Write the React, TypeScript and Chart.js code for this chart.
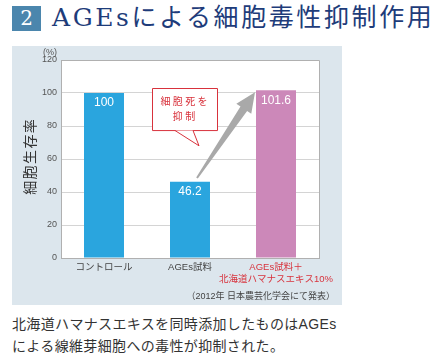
import React, { useEffect, useRef } from "react";
import { Chart, registerables } from "chart.js";

Chart.register(...registerables);

const categories: string[][] = [["コントロール"], ["AGEs試料"], ["AGEs試料＋", "北海道ハマナスエキス10%"]];
const values: number[] = [100, 46.2, 101.6];
const barColors: string[] = ["#2aa5de", "#2aa5de", "#cc88b9"];
const labelColors: string[] = ["#444444", "#444444", "#d8323c"];
const valueLabels: string[] = ["100", "46.2", "101.6"];
const yMin = 0;
const yMax = 120;
const yStep = 20;
const yTitle = "細胞生存率";
const yUnit = "(%)";
const calloutLines: string[] = ["細胞死を", "抑制"];
const footnote = "（2012年 日本農芸化学会にて発表）";
const titleNum = "2";
const titleText = "AGEsによる細胞毒性抑制作用";
const captionLines: string[] = ["北海道ハマナスエキスを同時添加したものはAGEs", "による線維芽細胞への毒性が抑制された。"];

const SANS = '"Liberation Sans", "Noto Sans CJK JP", sans-serif';

const decorPlugin = {
  id: "decor",
  beforeDraw(chart: any) {
    const { ctx, chartArea: a } = chart;
    ctx.save();
    ctx.fillStyle = "#ffffff";
    ctx.fillRect(a.left, a.top, a.right - a.left, a.bottom - a.top);
    ctx.restore();
  },
  afterDraw(chart: any) {
    const { ctx, chartArea: a, scales } = chart;
    const y = scales.y;
    const meta = chart.getDatasetMeta(0);
    ctx.save();
    // top & right border
    ctx.strokeStyle = "#b0b0b0";
    ctx.lineWidth = 1;
    ctx.beginPath();
    ctx.moveTo(Math.round(a.left) + 0.5, Math.round(a.top) + 0.5);
    ctx.lineTo(Math.round(a.right) + 0.5, Math.round(a.top) + 0.5);
    ctx.lineTo(Math.round(a.right) + 0.5, Math.round(a.bottom) + 0.5);
    ctx.stroke();

    // value labels
    ctx.fillStyle = "#ffffff";
    ctx.font = `12px ${SANS}`;
    ctx.textAlign = "center";
    ctx.textBaseline = "middle";
    meta.data.forEach((el: any, i: number) => {
      ctx.fillText(valueLabels[i], el.x, el.y + 10);
    });

    // (%) unit
    ctx.fillStyle = "#555555";
    ctx.font = `9px ${SANS}`;
    ctx.fillText(yUnit, 38, 7);

    // rotated y title (reads bottom to top)
    ctx.save();
    ctx.translate(19, 111);
    ctx.rotate(-Math.PI / 2);
    ctx.fillStyle = "#333333";
    ctx.font = `14px ${SANS}`;
    const chars = Array.from(yTitle);
    const step = 15.4;
    chars.forEach((c, i) => {
      ctx.fillText(c, (i - (chars.length - 1) / 2) * step, 0);
    });
    ctx.restore();

    // callout
    const b1 = meta.data[1];
    const cx = b1.x - 6;
    const bl = cx - 32.5, br = cx + 32.5;
    const bt = y.getPixelForValue(103), bb = y.getPixelForValue(77.5);
    const tipX = b1.x + 9, tipY = y.getPixelForValue(68);
    ctx.fillStyle = "#ffffff";
    ctx.strokeStyle = "#d8323c";
    ctx.lineWidth = 1;
    ctx.beginPath();
    ctx.rect(Math.round(bl) + 0.5, Math.round(bt) + 0.5, br - bl, bb - bt);
    ctx.fill();
    ctx.stroke();
    const t1 = b1.x - 15, t2 = b1.x + 3;
    ctx.beginPath();
    ctx.moveTo(t1, Math.round(bb) + 0.5);
    ctx.lineTo(tipX, tipY);
    ctx.lineTo(t2, Math.round(bb) + 0.5);
    ctx.closePath();
    ctx.fill();
    ctx.beginPath();
    ctx.moveTo(t1, Math.round(bb) + 0.5);
    ctx.lineTo(tipX, tipY);
    ctx.lineTo(t2, Math.round(bb) + 0.5);
    ctx.stroke();
    ctx.fillStyle = "#d8323c";
    ctx.font = `10px ${SANS}`;
    const cStep = 12.3;
    calloutLines.forEach((line, li) => {
      const cs = Array.from(line);
      const ly = bt + 14 + li * 15;
      cs.forEach((c, i) => {
        ctx.fillText(c, cx + (i - (cs.length - 1) / 2) * cStep, ly);
      });
    });

    // grey arrow
    const b2 = meta.data[2];
    const sx = b1.x + 7, sy = y.getPixelForValue(48.5);
    const ex = b2.x - b2.width / 2 - 1, ey = y.getPixelForValue(100.5);
    const dx = ex - sx, dy = ey - sy;
    const len = Math.hypot(dx, dy);
    const ux = dx / len, uy = dy / len;
    const px = -uy, py = ux;
    const headLen = 20, headHalf = 9, shaftTail = 1, shaftHead = 4;
    const hx = ex - ux * headLen, hy = ey - uy * headLen;
    ctx.fillStyle = "#a9a9a9";
    ctx.beginPath();
    ctx.moveTo(sx + px * shaftTail, sy + py * shaftTail);
    ctx.lineTo(hx + px * shaftHead, hy + py * shaftHead);
    ctx.lineTo(hx + px * headHalf, hy + py * headHalf);
    ctx.lineTo(ex, ey);
    ctx.lineTo(hx - px * headHalf, hy - py * headHalf);
    ctx.lineTo(hx - px * shaftHead, hy - py * shaftHead);
    ctx.lineTo(sx - px * shaftTail, sy - py * shaftTail);
    ctx.closePath();
    ctx.fill();

    // footnote
    ctx.fillStyle = "#444444";
    ctx.font = `9px ${SANS}`;
    ctx.textAlign = "right";
    ctx.fillText(footnote, 323, 251);
    ctx.restore();
  },
};

export default function App() {
  const ref = useRef<HTMLCanvasElement | null>(null);
  useEffect(() => {
    document.body.style.margin = "0";
    const canvas = ref.current!;
    const chart = new Chart(canvas, {
      type: "bar",
      data: {
        labels: categories as any,
        datasets: [
          {
            data: values,
            backgroundColor: barColors,
            borderWidth: 0,
            barPercentage: 0.465,
            categoryPercentage: 1,
          },
        ],
      },
      options: {
        responsive: false,
        animation: false,
        devicePixelRatio: 1,
        layout: { padding: { left: 0, top: 14, right: 23, bottom: 0 } },
        plugins: { legend: { display: false }, tooltip: { enabled: false } },
        scales: {
          x: {
            afterFit(scale: any) {
              scale.height = 47;
            },
            grid: { display: false, drawTicks: false },
            border: { color: "#b0b0b0" },
            ticks: {
              autoSkip: false,
              maxRotation: 0,
              minRotation: 0,
              padding: 3,
              color: (c: any) => labelColors[c.index] ?? "#444",
              font: { family: SANS, size: 9.5, lineHeight: 1.3 },
            },
          },
          y: {
            min: yMin,
            max: yMax,
            afterFit(scale: any) {
              scale.width = 49;
            },
            grid: { color: "#d4d4d4", drawTicks: false },
            border: { color: "#b0b0b0" },
            ticks: {
              stepSize: yStep,
              padding: 4,
              color: "#555555",
              font: { family: SANS, size: 9 },
            },
          },
        },
      },
      plugins: [decorPlugin],
    });
    return () => chart.destroy();
  }, []);

  return (
    <div style={{ position: "absolute", left: 0, top: 0, width: 436, height: 358, background: "#ffffff", overflow: "hidden" }}>
      <div
        style={{
          position: "absolute",
          left: 12,
          top: 6,
          width: 29,
          height: 25,
          background: "#4b86ad",
          color: "#ffffff",
          fontFamily: '"DejaVu Serif", serif',
          fontSize: 20,
          lineHeight: "25px",
          textAlign: "center",
        }}
      >
        {titleNum}
      </div>
      <div
        style={{
          position: "absolute",
          left: 52,
          top: 1,
          color: "#1e3c7a",
          fontFamily: '"DejaVu Serif", "Noto Sans CJK JP", serif',
          fontSize: 25,
          lineHeight: "34px",
          letterSpacing: 2.6,
          whiteSpace: "nowrap",
        }}
      >
        {titleText}
      </div>
      <div style={{ position: "absolute", left: 12, top: 46, width: 330, height: 259, background: "#dce6ed" }}>
        <canvas ref={ref} width={330} height={259} style={{ display: "block", width: 330, height: 259 }} />
      </div>
      <div
        style={{
          position: "absolute",
          left: 12,
          top: 313,
          color: "#333333",
          fontFamily: '"Liberation Sans", "Noto Sans CJK JP", sans-serif',
          fontSize: 14,
          lineHeight: "22px",
          letterSpacing: 0.35,
          whiteSpace: "nowrap",
        }}
      >
        {captionLines.map((l, i) => (
          <div key={i}>{l}</div>
        ))}
      </div>
    </div>
  );
}
